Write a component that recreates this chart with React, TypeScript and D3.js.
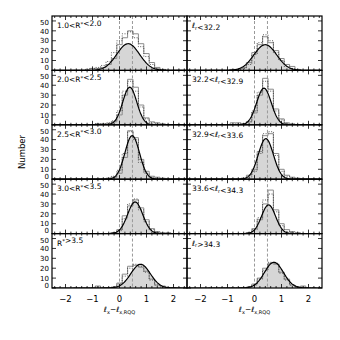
import React from "react";
import * as d3 from "d3";

// histogram bins (centres, width 0.2) shared by all panels
const binCenters = [-1.6, -1.4, -1.2, -1.0, -0.8, -0.6, -0.4, -0.2, 0.0, 0.2, 0.4, 0.6, 0.8, 1.0, 1.2, 1.4, 1.6, 1.8, 2.0, 2.2];
const binWidth = 0.2;

const xTicks = [-2, -1, 0, 1, 2];
const yTicks = [0, 10, 20, 30, 40, 50];
const refLines = [0, 0.48];

// left column: bins in R*
const leftRanges: [number | null, number | null][] = [
  [1.0, 2.0],
  [2.0, 2.5],
  [2.5, 3.0],
  [3.0, 3.5],
  [3.5, null]
];
const leftHist = [
  [0, 0, 0, 2, 2, 3, 6, 12, 26, 33, 40, 37, 27, 17, 8, 3, 1, 0, 0, 0],
  [0, 0, 0, 0, 1, 1, 1, 3, 10, 30, 46, 38, 20, 7, 3, 2, 1, 0, 0, 0],
  [0, 0, 0, 0, 0, 0, 1, 2, 6, 22, 49, 42, 20, 8, 3, 2, 1, 0, 0, 0],
  [0, 0, 0, 0, 0, 0, 0, 1, 4, 18, 28, 34, 26, 14, 5, 2, 1, 1, 0, 0],
  [0, 0, 0, 0, 2, 0, 0, 1, 5, 14, 22, 23, 21, 17, 9, 3, 2, 0, 0, 0]
];
const leftDotted = [
  [0, 0, 1, 2, 3, 5, 9, 18, 30, 37, 39, 33, 24, 14, 6, 2, 1, 0, 0, 0],
  [0, 0, 0, 0, 1, 1, 2, 4, 14, 34, 44, 34, 18, 6, 2, 1, 0, 0, 0, 0],
  [0, 0, 0, 0, 0, 0, 1, 3, 9, 26, 48, 40, 17, 6, 2, 1, 0, 0, 0, 0],
  [0, 0, 0, 0, 0, 0, 0, 1, 3, 15, 30, 35, 24, 12, 4, 1, 0, 0, 0, 0],
  [0, 0, 0, 0, 1, 0, 0, 1, 4, 12, 20, 24, 22, 16, 8, 3, 1, 0, 0, 0]
];
const leftMean = [0.32, 0.38, 0.47, 0.58, 0.78];
const leftSigma = [0.42, 0.26, 0.27, 0.28, 0.36];
const leftAmp = [27, 38, 44, 32, 24];

// right column: bins in radio luminosity
const rightRanges: [number | null, number | null][] = [
  [null, 32.2],
  [32.2, 32.9],
  [32.9, 33.6],
  [33.6, 34.3],
  [34.3, null]
];
const rightHist = [
  [0, 0, 0, 0, 1, 1, 3, 8, 18, 26, 34, 28, 20, 12, 6, 4, 1, 0, 0, 0],
  [0, 0, 0, 0, 2, 2, 1, 3, 12, 30, 47, 36, 16, 6, 2, 1, 0, 0, 0, 0],
  [0, 0, 0, 0, 0, 0, 1, 4, 10, 28, 44, 46, 26, 10, 4, 2, 1, 0, 0, 0],
  [0, 0, 0, 0, 0, 0, 0, 1, 5, 14, 30, 44, 24, 10, 4, 2, 1, 0, 0, 0],
  [0, 0, 0, 0, 0, 0, 0, 1, 4, 10, 20, 25, 24, 16, 9, 3, 1, 2, 0, 0]
];
const rightDotted = [
  [0, 0, 0, 0, 0, 1, 2, 6, 16, 28, 36, 30, 18, 10, 4, 2, 0, 0, 0, 0],
  [0, 0, 0, 0, 0, 1, 1, 3, 14, 33, 44, 34, 14, 5, 1, 0, 0, 0, 0, 0],
  [0, 0, 0, 0, 0, 0, 1, 2, 8, 26, 46, 48, 24, 8, 3, 1, 0, 0, 0, 0],
  [0, 0, 0, 0, 0, 0, 0, 1, 4, 16, 34, 40, 22, 8, 2, 1, 0, 0, 0, 0],
  [0, 0, 0, 0, 0, 0, 0, 1, 3, 9, 18, 26, 25, 15, 8, 3, 1, 1, 0, 0]
];
const rightMean = [0.4, 0.35, 0.42, 0.52, 0.72];
const rightSigma = [0.42, 0.27, 0.28, 0.26, 0.35];
const rightAmp = [26, 37, 41, 29, 26];

const top = 16,
  bottom = 288,
  nRows = 5;
const columns = [
  [52, 187],
  [187, 322]
];
const font = "'DejaVu Sans', sans-serif";

function histPath(counts: number[], x: any, y: any) {
  const pts: [number, number][] = [[binCenters[0] - binWidth / 2, 0]];
  counts.forEach((c, i) => pts.push([binCenters[i] - binWidth / 2, c]));
  pts.push([binCenters[binCenters.length - 1] + binWidth / 2, 0]);
  return d3
    .line<[number, number]>()
    .x(d => x(d[0]))
    .y(d => y(d[1]))
    .curve(d3.curveStepAfter)(pts);
}

function RLabel({ range }: { range: [number | null, number | null] }) {
  const [lo, hi] = range;
  const sym = [
    <tspan key="r">R</tspan>,
    <tspan key="s" fontSize={5.5} dy={-2.5}>*</tspan>,
    <tspan key="e" dy={2.5}></tspan>
  ];
  return (
    <>
      {lo != null && hi != null && <tspan>{lo.toFixed(1)}&lt;</tspan>}
      {sym}
      {hi != null && <tspan>&lt;{hi.toFixed(1)}</tspan>}
      {hi == null && <tspan>&gt;{lo!.toFixed(1)}</tspan>}
    </>
  );
}

function LLabel({ range }: { range: [number | null, number | null] }) {
  const [lo, hi] = range;
  const sym = [
    <tspan key="l">ℓ</tspan>,
    <tspan key="s" fontSize={5} dy={1.5}>r</tspan>,
    <tspan key="e" dy={-1.5}></tspan>
  ];
  return (
    <>
      {lo != null && hi != null && <tspan>{lo.toFixed(1)}&lt;</tspan>}
      {sym}
      {hi != null && <tspan>&lt;{hi.toFixed(1)}</tspan>}
      {hi == null && <tspan>&gt;{lo!.toFixed(1)}</tspan>}
    </>
  );
}

function Panel(props: any) {
  const { x0, x1, y0, y1, hist, dots, mean, sigma, amp, label, showY, showX, id } = props;
  const x = d3.scaleLinear().domain([-2.5, 2.5]).range([x0, x1]);
  const y = d3.scaleLinear().domain([0, 55]).range([y1, y0]);

  const curve = d3
    .range(-2.5, 2.5001, 0.025)
    .map(v => [v, amp * Math.exp(-((v - mean) * (v - mean)) / (2 * sigma * sigma))] as [number, number]);
  const area = d3
    .area<[number, number]>()
    .x(d => x(d[0]))
    .y0(y(0))
    .y1(d => y(d[1]));
  const line = d3
    .line<[number, number]>()
    .x(d => x(d[0]))
    .y(d => y(d[1]));

  const minor = d3.range(-12, 13).map(k => k * 0.2);

  return (
    <g>
      <clipPath id={id}>
        <rect x={x0} y={y0} width={x1 - x0} height={y1 - y0} />
      </clipPath>
      <g clipPath={`url(#${id})`}>
        <path d={area(curve) || ""} fill="#d6d6d6" />
        {refLines.map(v => (
          <line key={v} x1={x(v)} x2={x(v)} y1={y0} y2={y1} stroke="#999" strokeWidth={1} strokeDasharray="3,2" />
        ))}
        <path d={histPath(hist, x, y) || ""} fill="none" stroke="#8c8c8c" strokeWidth={1} />
        <path d={histPath(dots, x, y) || ""} fill="none" stroke="#333" strokeWidth={0.8} strokeDasharray="1,1.5" />
        <path d={line(curve) || ""} fill="none" stroke="#000" strokeWidth={1.2} />
      </g>
      {/* frame and ticks */}
      <rect x={x0} y={y0} width={x1 - x0} height={y1 - y0} fill="none" stroke="#000" strokeWidth={1.2} />
      {minor.map(v => {
        const major = xTicks.indexOf(Math.round(v * 10) / 10) >= 0;
        const len = major ? 4 : 2;
        return (
          <g key={v} stroke="#000" strokeWidth={0.8}>
            <line x1={x(v)} x2={x(v)} y1={y1} y2={y1 - len} />
            <line x1={x(v)} x2={x(v)} y1={y0} y2={y0 + len} />
          </g>
        );
      })}
      {y.ticks(5).map(v => (
        <g key={v} stroke="#000" strokeWidth={0.8}>
          <line x1={x0} x2={x0 + 4} y1={y(v)} y2={y(v)} />
          <line x1={x1} x2={x1 - 4} y1={y(v)} y2={y(v)} />
        </g>
      ))}
      {showY &&
        yTicks.map(v => (
          <text
            key={v}
            x={x0 - 3}
            y={y(v) + (v === 0 ? -0.5 : v === 50 ? 4 : 2.7)}
            textAnchor="end"
            fontSize={7}
            fontFamily={font}
          >
            {v}
          </text>
        ))}
      {showX &&
        xTicks.map(v => (
          <text
            key={v}
            x={x(v)}
            y={y1 + 11}
            textAnchor="middle"
            dominantBaseline="central"
            fontSize={8.5}
            fontFamily={font}
          >
            {v < 0 ? "\u2212" + Math.abs(v) : v}
          </text>
        ))}
      <text x={x0 + 5} y={y0 + 12} fontSize={7.5} fontFamily={font}>
        {label}
      </text>
      {showX && (
        <text x={x(0)} y={y1 + 24} textAnchor="middle" fontSize={7.5} fontFamily={font}>
          <tspan>ℓ</tspan>
          <tspan fontSize={5} dy={1.5}>x</tspan>
          <tspan dy={-1.5}>{"\u2212"}ℓ</tspan>
          <tspan fontSize={5} dy={1.5}>x,RQQ</tspan>
        </text>
      )}
    </g>
  );
}

export default function App() {
  const ph = (bottom - top) / nRows;
  const panels: any[] = [];
  for (let i = 0; i < nRows; i++) {
    const y0 = top + i * ph;
    const y1 = y0 + ph;
    panels.push(
      <Panel
        key={"l" + i}
        id={"cl" + i}
        x0={columns[0][0]}
        x1={columns[0][1]}
        y0={y0}
        y1={y1}
        hist={leftHist[i]}
        dots={leftDotted[i]}
        mean={leftMean[i]}
        sigma={leftSigma[i]}
        amp={leftAmp[i]}
        label={<RLabel range={leftRanges[i]} />}
        showY={true}
        showX={i === nRows - 1}
      />
    );
    panels.push(
      <Panel
        key={"r" + i}
        id={"cr" + i}
        x0={columns[1][0]}
        x1={columns[1][1]}
        y0={y0}
        y1={y1}
        hist={rightHist[i]}
        dots={rightDotted[i]}
        mean={rightMean[i]}
        sigma={rightSigma[i]}
        amp={rightAmp[i]}
        label={<LLabel range={rightRanges[i]} />}
        showY={false}
        showX={i === nRows - 1}
      />
    );
  }
  return (
    <div style={{ position: "absolute", left: 0, top: 0 }}>
      <svg width={340} height={340} style={{ display: "block", background: "#fff" }}>
        {panels}
        <text
          transform={`translate(25,${(top + bottom) / 2}) rotate(-90)`}
          textAnchor="middle"
          fontSize={8.5}
          fontFamily={font}
        >
          Number
        </text>
      </svg>
    </div>
  );
}
